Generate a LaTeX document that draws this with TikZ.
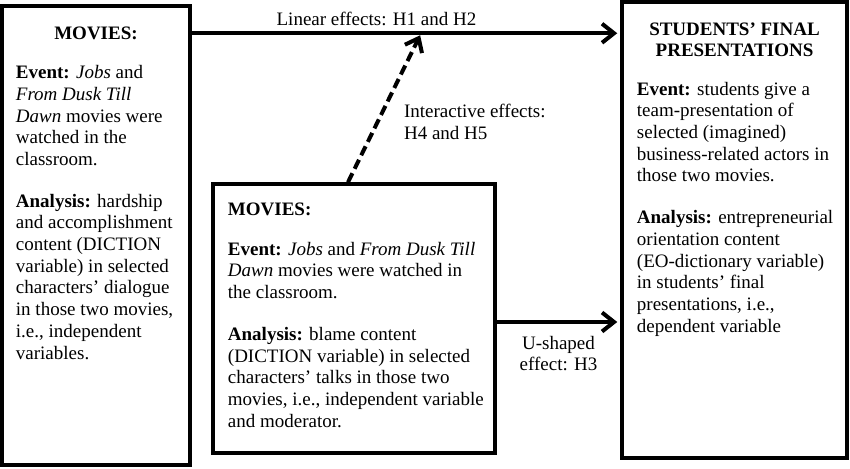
\documentclass[tikz,border=0pt]{standalone}
\usepackage{fontspec}
\setmainfont{Liberation Serif}
\usetikzlibrary{arrows.meta,positioning}
\tikzset{box/.style={rectangle, draw, line width=3.5pt, inner sep=0pt},
  txt/.style={inner sep=0pt, align=left, font=\fontsize{19}{21.7}\selectfont},
  link/.style={line width=4pt, -{Straight Barb[length=12pt,width=19pt]}}}

\begin{document}
\begin{tikzpicture}[x=1pt, y=-1pt]
\useasboundingbox (0,0) rectangle (850,468);
\node[box, minimum width=188pt, minimum height=459pt] (movies) at (96,235.5) {};
\node[box, minimum width=282pt, minimum height=269pt] (moderator) at (354,318.5) {};
\node[box, minimum width=225pt, minimum height=456pt] (presentations) at (734.5,230) {};

\node[txt, anchor=base, font=\fontsize{19}{21.7}\selectfont\bfseries] (movies-title) at ([yshift=-35pt]movies.north) {MOVIES:};
\node[txt, anchor=north west] (movies-body) at ([xshift=15.5pt, yshift=-59pt]movies.north west) {\strut\textbf{Event:} \textit{Jobs} and\\ \textit{From Dusk Till}\\ \textit{Dawn} movies were\\ watched in the\\ classroom.\\[20pt] \textbf{Analysis:} hardship\\ and accomplishment\\ content (DICTION\\ variable) in selected\\ characters' dialogue\\ in those two movies,\\ i.e., independent\\ variables.};
\node[txt, anchor=base west, font=\fontsize{19}{21.7}\selectfont\bfseries] (moderator-title) at ([xshift=16.5pt, yshift=-32.75pt]moderator.north west) {MOVIES:};
\node[txt, anchor=north west] (moderator-body) at ([xshift=16.5pt, yshift=-57.6pt]moderator.north west) {\strut\textbf{Event:} \textit{Jobs} and \textit{From Dusk Till}\\ \textit{Dawn} movies were watched in\\ the classroom.\\[20pt] \textbf{Analysis:} blame content\\ (DICTION variable) in selected\\ characters' talks in those two\\ movies, i.e., independent variable\\ and moderator.};
\node[txt, anchor=north, align=center, font=\fontsize{19}{21.2}\selectfont\bfseries] (presentations-title) at ([yshift=-20pt]presentations.north) {\strut STUDENTS' FINAL\\ PRESENTATIONS};
\node[txt, anchor=north west] (presentations-body) at ([xshift=16.5pt, yshift=-79.5pt]presentations.north west) {\strut\textbf{Event:} students give a\\ team-presentation of\\ selected (imagined)\\ business-related actors in\\ those two movies.\\[20pt] \textbf{Analysis:} entrepreneurial\\ orientation content\\ (EO-dictionary variable)\\ in students' final\\ presentations, i.e.,\\ dependent variable};

% linear and u-shaped effects
\draw[link, shorten >=3pt] ([yshift=-29pt]movies.north east) -- coordinate[pos=.533] (join) node[txt, pos=.431, anchor=base, yshift=8pt] (linear) {Linear effects: H1 and H2} ([yshift=-33pt]presentations.north west);
\draw[link, shorten >=3pt] ([yshift=-3.5pt]moderator.east) -- node[txt, anchor=north, align=center, yshift=-10pt] (ushaped) {\strut U-shaped\\ effect: H3} ([yshift=-3.5pt]moderator.east -| presentations.west);
% interaction
\draw[link, dash pattern=on 10pt off 5pt] ([xshift=-6pt]moderator.north) -- node[txt, pos=.555, anchor=north west, xshift=14pt] (interactive) {\strut Interactive effects:\\ H4 and H5} ([yshift=-2pt]join);
\end{tikzpicture}
\end{document}
